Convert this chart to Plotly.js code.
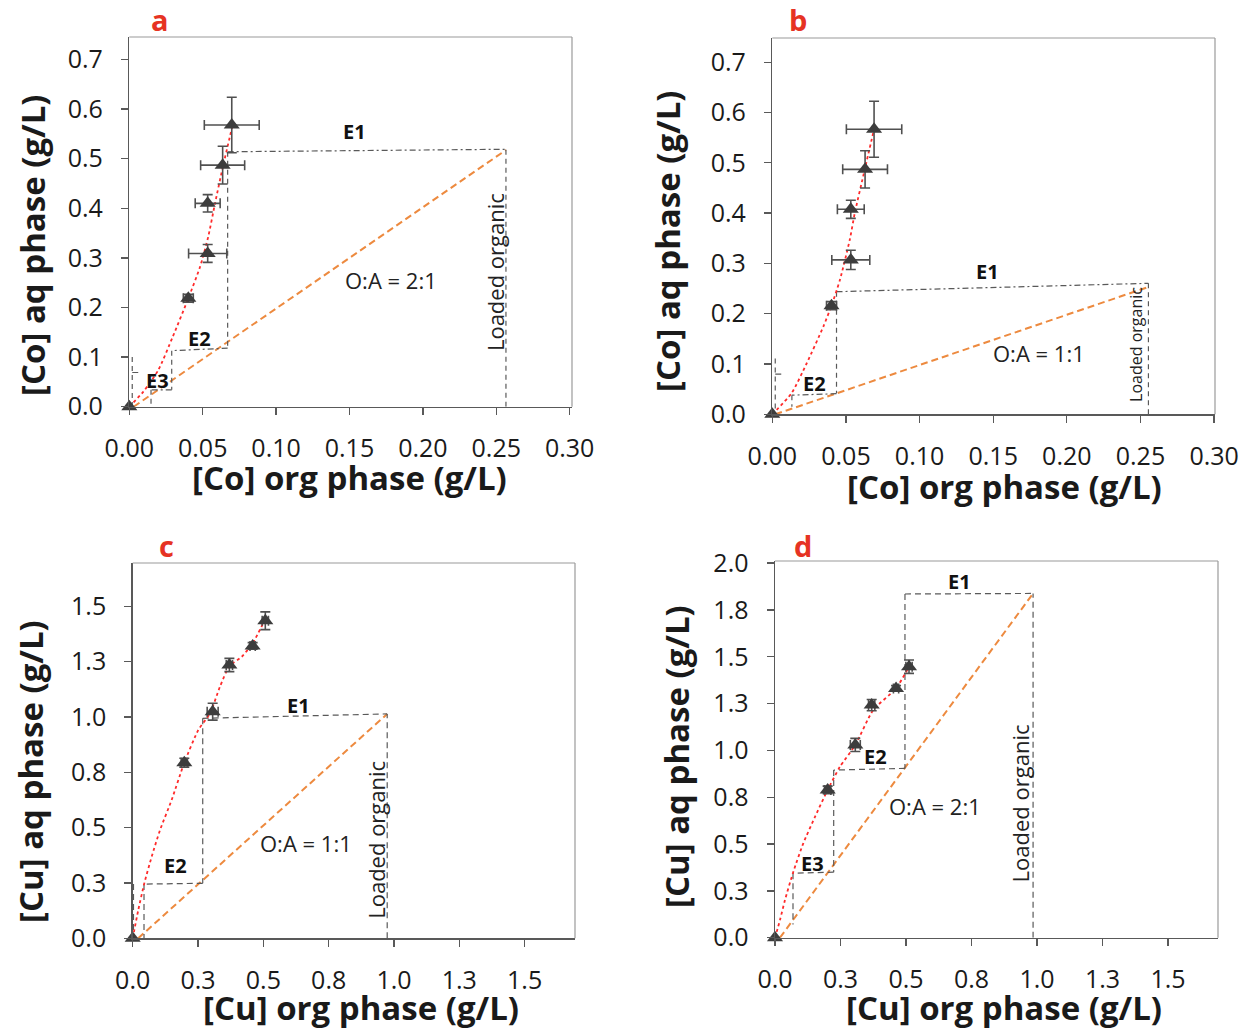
<!DOCTYPE html>
<html>
<head>
<meta charset="utf-8">
<script src="https://cdn.plot.ly/plotly-3.0.1.min.js"></script>
<style>html,body{margin:0;padding:0;background:#fff;}#chart{width:1250px;height:1030px;}</style>
</head>
<body>
<div id="chart"></div>
<script>
// ---------- Data ----------
// Panel a : Co, O:A = 2:1
const coOrgA = [0, 0.0402, 0.0534, 0.0534, 0.0636, 0.0698];
const coAqA = [0, 0.2185, 0.309, 0.410, 0.487, 0.568];
const coOrgErrA = [0, 0.0034, 0.013, 0.0085, 0.015, 0.0187];
const coAqErrA = [0, 0.008, 0.018, 0.0175, 0.038, 0.056];
const fitAx = [0, 0.0095, 0.0198, 0.0296, 0.0402, 0.0482, 0.0538, 0.0584, 0.0640, 0.0704];
const fitAy = [0, 0.030, 0.074, 0.141, 0.2185, 0.282, 0.343, 0.410, 0.487, 0.568];
const opAx = [0.003, 0.2566];
const opAy = [0, 0.5175];
const stepAhx = [0.067, 0.2566, null, 0.067, 0.0289, null, 0.0289, 0.0148, null, 0.002, 0.0073];
const stepAhy = [0.514, 0.519, null, 0.118, 0.113, null, 0.034, 0.034, null, 0.069, 0.069];
const stepAvx = [0.2566, 0.2566, null, 0.067, 0.067, null, 0.0289, 0.0289, null, 0.0148, 0.0148, null, 0.002, 0.002];
const stepAvy = [0, 0.519, null, 0.514, 0.118, null, 0.113, 0.034, null, 0.034, 0, null, 0.1, 0];

// Panel b : Co, O:A = 1:1
const coOrgB = [0, 0.0402, 0.0533, 0.0533, 0.0630, 0.0691];
const coAqB = [0, 0.216, 0.307, 0.4076, 0.487, 0.5666];
const coOrgErrB = [0, 0.0034, 0.0129, 0.0091, 0.0152, 0.0188];
const coAqErrB = [0, 0.008, 0.019, 0.018, 0.037, 0.0557];
const fitBx = [0, 0.0131, 0.0233, 0.0346, 0.0402, 0.0459, 0.0526, 0.056, 0.0628, 0.0691];
const fitBy = [0, 0.042, 0.101, 0.174, 0.216, 0.267, 0.347, 0.40, 0.487, 0.567];
const opBx = [0.002, 0.2547];
const opBy = [0, 0.2525];
const stepBhx = [0.0436, 0.2554, null, 0.0436, 0.0133, null, 0.002, 0.007];
const stepBhy = [0.2437, 0.2604, null, 0.041, 0.038, null, 0.080, 0.080];
const stepBvx = [0.2554, 0.2554, null, 0.0436, 0.0436, null, 0.0133, 0.0133, null, 0.002, 0.002];
const stepBvy = [0, 0.2604, null, 0.2437, 0.042, null, 0.038, 0.015, null, 0.111, 0];

// Panel c : Cu, O:A = 1:1
const cuOrgC = [0, 0.1975, 0.306, 0.370, 0.459, 0.5075];
const cuAqC = [0, 0.7935, 1.024, 1.235, 1.321, 1.435];
const cuOrgErrC = [0, 0.012, 0.021, 0.012, 0.010, 0.012];
const cuAqErrC = [0, 0.020, 0.038, 0.030, 0.015, 0.040];
const fitCx = [0, 0.0214, 0.0444, 0.0727, 0.1045, 0.149, 0.1975, 0.251, 0.296, 0.334, 0.370, 0.417, 0.459, 0.5025];
const fitCy = [0, 0.128, 0.2485, 0.369, 0.489, 0.625, 0.7935, 0.941, 1.017, 1.137, 1.230, 1.272, 1.333, 1.431];
const opCx = [0.021, 0.974];
const opCy = [0, 1.014];
const stepCx = [0.974, 0.974, null, 0.268, 0.974, null, 0.268, 0.268, null, 0.268, 0.0433, null, 0.0433, 0.0433, null, 0.003, 0.003];
const stepCy = [0, 1.014, null, 0.994, 1.014, null, 0.994, 0.2485, null, 0.2485, 0.245, null, 0.245, 0, null, 0.245, 0];

// Panel d : Cu, O:A = 2:1
const cuOrgD = [0, 0.201, 0.3065, 0.369, 0.462, 0.5115];
const cuAqD = [0, 0.789, 1.029, 1.242, 1.331, 1.447];
const cuOrgErrD = [0, 0.012, 0.019, 0.012, 0.010, 0.012];
const cuAqErrD = [0, 0.020, 0.035, 0.030, 0.015, 0.036];
const fitDx = [0, 0.019, 0.038, 0.070, 0.108, 0.153, 0.201, 0.248, 0.3065, 0.375, 0.462, 0.5115];
const fitDy = [0, 0.0945, 0.201, 0.352, 0.504, 0.646, 0.789, 0.913, 1.029, 1.216, 1.331, 1.447];
const opDx = [0.019, 0.985];
const opDy = [0, 1.838];
const stepDx = [0.985, 0.985, null, 0.496, 0.985, null, 0.496, 0.496, null, 0.496, 0.224, null, 0.224, 0.224, null, 0.224, 0.0687, null, 0.0687, 0.0687];
const stepDy = [0, 1.838, null, 1.835, 1.838, null, 1.835, 0.904, null, 0.904, 0.895, null, 0.895, 0.35, null, 0.35, 0.344, null, 0.344, 0.07];

// Tick labels
const coXTicks = [0, 0.05, 0.10, 0.15, 0.20, 0.25, 0.30];
const coXText = ["0.00", "0.05", "0.10", "0.15", "0.20", "0.25", "0.30"];
const coYTicks = [0, 0.1, 0.2, 0.3, 0.4, 0.5, 0.6, 0.7];
const coYText = ["0.0", "0.1", "0.2", "0.3", "0.4", "0.5", "0.6", "0.7"];
const cuXTicks = [0, 0.25, 0.5, 0.75, 1.0, 1.25, 1.5];
const cuXText = ["0.0", "0.3", "0.5", "0.8", "1.0", "1.3", "1.5"];
const cuYTicksC = [0, 0.25, 0.5, 0.75, 1.0, 1.25, 1.5];
const cuYTextC = ["0.0", "0.3", "0.5", "0.8", "1.0", "1.3", "1.5"];
const cuYTicksD = [0, 0.25, 0.5, 0.75, 1.0, 1.25, 1.5, 1.75, 2.0];
const cuYTextD = ["0.0", "0.3", "0.5", "0.8", "1.0", "1.3", "1.5", "1.8", "2.0"];

// Axis titles
const coXTitle = '[Co] org phase (g/L)';
const coYTitle = '[Co] aq phase (g/L)';
const cuXTitle = '[Cu] org phase (g/L)';
const cuYTitle = '[Cu] aq phase (g/L)';

// ---------- Styles ----------
const FONT = '"Open Sans", "Noto Sans", "DejaVu Sans", sans-serif';
const MARK = '#3d3d3d';
const STEP = '#595959';
const ORANGE = '#ed8a3f';
const RED = '#ff2a2a';

function panelTraces(ax, ay, org, aq, eOrg, eAq, fx, fy, ox, oy, steps) {
  const t = [];
  t.push({x: ox, y: oy, xaxis: ax, yaxis: ay, mode: 'lines', type: 'scatter', hoverinfo: 'skip',
          line: {color: ORANGE, width: 2, dash: '7px,4px'}});
  steps.forEach(s => t.push({x: s.x, y: s.y, xaxis: ax, yaxis: ay, mode: 'lines', type: 'scatter',
          connectgaps: false, hoverinfo: 'skip', line: {color: STEP, width: 1.2, dash: s.dash}}));
  t.push({x: fx, y: fy, xaxis: ax, yaxis: ay, mode: 'lines', type: 'scatter', line: {color: RED, width: 1.8, dash: 'dot', shape: 'spline', smoothing: 0.6}});
  t.push({x: org, y: aq, xaxis: ax, yaxis: ay, mode: 'markers', type: 'scatter', cliponaxis: false,
          marker: {symbol: 'triangle-up', size: 14, color: MARK},
          error_x: {type: 'data', array: eOrg, visible: true, color: '#505050', thickness: 1.6, width: 5},
          error_y: {type: 'data', array: eAq, visible: true, color: '#505050', thickness: 1.6, width: 5}});
  return t;
}

const DD = '6px,3px,2px,3px';
const DS = '5px,4px';
const data = [].concat(
  panelTraces('x', 'y', coOrgA, coAqA, coOrgErrA, coAqErrA, fitAx, fitAy, opAx, opAy,
    [{x: stepAhx, y: stepAhy, dash: DD}, {x: stepAvx, y: stepAvy, dash: DS}]),
  panelTraces('x2', 'y2', coOrgB, coAqB, coOrgErrB, coAqErrB, fitBx, fitBy, opBx, opBy,
    [{x: stepBhx, y: stepBhy, dash: DD}, {x: stepBvx, y: stepBvy, dash: DS}]),
  panelTraces('x3', 'y3', cuOrgC, cuAqC, cuOrgErrC, cuAqErrC, fitCx, fitCy, opCx, opCy,
    [{x: stepCx, y: stepCy, dash: '6px,4px'}]),
  panelTraces('x4', 'y4', cuOrgD, cuAqD, cuOrgErrD, cuAqErrD, fitDx, fitDy, opDx, opDy,
    [{x: stepDx, y: stepDy, dash: '6px,4px'}])
);

const TICKFONT = {family: FONT, size: 25, color: '#1a1a1a'};
const TITLEFONT = {family: FONT, size: 33, color: '#1a1a1a', weight: 'bold'};

function xax(domain, range, anchor, tv, tt) {
  return {domain: domain, range: range, anchor: anchor, tickvals: tv, ticktext: tt,
    showgrid: false, zeroline: false, showline: true, linecolor: '#595959', linewidth: 1.5,
    ticks: 'outside', ticklen: 7, tickwidth: 1.3, tickcolor: '#595959', ticklabelstandoff: 12,
    tickfont: TICKFONT, automargin: false};
}
function yax(domain, range, anchor, tv, tt) {
  return {domain: domain, range: range, anchor: anchor, tickvals: tv, ticktext: tt,
    showgrid: false, zeroline: false, showline: true, linecolor: '#595959', linewidth: 1.5,
    ticks: 'outside', ticklen: 7, tickwidth: 1.3, tickcolor: '#595959', ticklabelstandoff: 13,
    tickfont: TICKFONT, automargin: false};
}

function frame(xr, yr) {
  return [
    {type: 'line', xref: xr + ' domain', yref: yr + ' domain', x0: 0, x1: 1, y0: 1, y1: 1, line: {color: '#9a9a9a', width: 1.2}},
    {type: 'line', xref: xr + ' domain', yref: yr + ' domain', x0: 1, x1: 1, y0: 0, y1: 1, line: {color: '#9a9a9a', width: 1.2}}
  ];
}

function lab(xr, yr, x, y, text, opts) {
  return Object.assign({xref: xr, yref: yr, x: x, y: y, text: text, showarrow: false,
    xanchor: 'center', yanchor: 'middle',
    font: {family: FONT, size: 17, color: '#111'}}, opts || {});
}
function px(x, y, text, opts) { return lab('paper', 'paper', x / 1250, 1 - y / 1030, text, opts); }
const EB = {font: {family: FONT, size: 20, color: '#111', weight: 'bold'}};
const OA = {font: {family: FONT, size: 22, color: '#222'}};
const LO = {textangle: -90, font: {family: FONT, size: 22, color: '#222'}};
const PL = {font: {family: FONT, size: 29, color: '#e63323', weight: 'bold'}};
const XT = {font: TITLEFONT};
const YT = {font: TITLEFONT, textangle: -90};

const annotations = [
  lab('x', 'y', 0.1537, 0.554, 'E1', EB),
  lab('x', 'y', 0.048, 0.138, 'E2', EB),
  lab('x', 'y', 0.019, 0.052, 'E3', EB),
  lab('x', 'y', 0.178, 0.255, 'O:A = 2:1', OA),
  lab('x', 'y', 0.249, 0.271, 'Loaded organic', LO),
  lab('x2', 'y2', 0.146, 0.283, 'E1', EB),
  lab('x2', 'y2', 0.0288, 0.062, 'E2', EB),
  lab('x2', 'y2', 0.181, 0.122, 'O:A = 1:1', OA),
  lab('x2', 'y2', 0.247, 0.138, 'Loaded organic', {textangle: -90, font: {family: FONT, size: 16, color: '#222'}}),
  lab('x3', 'y3', 0.633, 1.05, 'E1', EB),
  lab('x3', 'y3', 0.162, 0.327, 'E2', EB),
  lab('x3', 'y3', 0.664, 0.43, 'O:A = 1:1', OA),
  lab('x3', 'y3', 0.931, 0.445, 'Loaded organic', LO),
  lab('x4', 'y4', 0.706, 1.904, 'E1', EB),
  lab('x4', 'y4', 0.385, 0.965, 'E2', EB),
  lab('x4', 'y4', 0.145, 0.394, 'E3', EB),
  lab('x4', 'y4', 0.611, 0.703, 'O:A = 2:1', OA),
  lab('x4', 'y4', 0.935, 0.717, 'Loaded organic', LO),
  // axis titles
  px(349, 477, coXTitle, XT),
  px(32, 245, coYTitle, YT),
  px(1004, 486, coXTitle, XT),
  px(668, 241, coYTitle, YT),
  px(361, 1007, cuXTitle, XT),
  px(30, 772, cuYTitle, YT),
  px(1004, 1007, cuXTitle, XT),
  px(676, 756, cuYTitle, YT),
  // panel letters
  px(160, 20, 'a', PL),
  px(798, 20, 'b', PL),
  px(166, 545, 'c', PL),
  px(803, 545, 'd', PL)
];

const layout = {
  width: 1250, height: 1030, margin: {l: 0, r: 0, t: 0, b: 0},
  paper_bgcolor: '#fff', plot_bgcolor: '#fff', showlegend: false,
  font: {family: FONT},
  xaxis: xax([129.3 / 1250, 572 / 1250], [0, 0.3016], 'y', coXTicks, coXText),
  yaxis: yax([1 - 406.7 / 1030, 1 - 37 / 1030], [0, 0.7454], 'x', coYTicks, coYText),
  xaxis2: xax([772.3 / 1250, 1215 / 1250], [0, 0.3006], 'y2', coXTicks, coXText),
  yaxis2: yax([1 - 414.3 / 1030, 1 - 38 / 1030], [0, 0.7481], 'x2', coYTicks, coYText),
  xaxis3: xax([132.7 / 1250, 575 / 1250], [0, 1.6927], 'y3', cuXTicks, cuXText),
  yaxis3: yax([1 - 938.3 / 1030, 1 - 563 / 1030], [0, 1.6959], 'x3', cuYTicksC, cuYTextC),
  xaxis4: xax([775 / 1250, 1218 / 1250], [0, 1.6908], 'y4', cuXTicks, cuXText),
  yaxis4: yax([1 - 937.7 / 1030, 1 - 561 / 1030], [0, 2.0112], 'x4', cuYTicksD, cuYTextD),
  shapes: [].concat(frame('x', 'y'), frame('x2', 'y2'), frame('x3', 'y3'), frame('x4', 'y4')),
  annotations: annotations
};

Plotly.newPlot('chart', data, layout, {staticPlot: true, displayModeBar: false});
</script>
</body>
</html>
